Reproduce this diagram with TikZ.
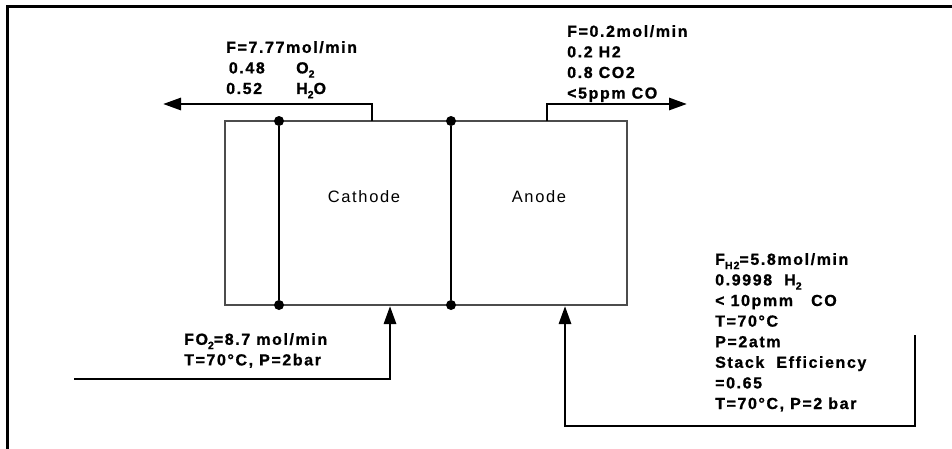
\documentclass[tikz,border=0pt]{standalone}
\usepackage{fontspec}
\setmainfont{Liberation Sans}[LetterSpace=10, BoldFeatures={FakeBold=1}]
\usetikzlibrary{arrows.meta, positioning}

\newcommand{\lowtxt}[1]{\raisebox{-0.5ex}{\fontsize{10.5}{10.5}\selectfont #1}}

\begin{document}
\begin{tikzpicture}[x=1pt, y=-1pt,
    flow/.style={line width=2.9pt, -{Triangle[length=18pt, width=12pt]}},
    membrane/.style={line width=2.3pt},
    junction/.style={circle, fill, inner sep=0pt, minimum size=10pt},
    stream/.style={anchor=north west, inner sep=0pt, align=left, font=\bfseries\fontsize{16}{20.6}\selectfont},
    region/.style={font=\fontsize{16.5}{18}\selectfont}
]
    \useasboundingbox (0,0) rectangle (952,448);
    \draw[line width=3pt] (7,6) rectangle (965,460);

    % fuel cell
    \node[draw=black!70, line width=1.4pt, minimum width=402pt, minimum height=184pt, inner sep=0pt] (cell) at (426,213) {};
    \node[junction] (ct) at (279,121) {};
    \node[junction] (cb) at (279,305) {};
    \node[junction] (at) at (451,121) {};
    \node[junction] (ab) at (451,305) {};
    \draw[membrane] (ct) -- (cb);
    \draw[membrane] (at) -- (ab);
    \node[region] (cathode) at (364,197) {Cathode};
    \node[region] (anode) at (539,197) {Anode};

    % streams
    \coordinate (cout) at (372,121);
    \coordinate (coutend) at (163,104);
    \coordinate (aout) at (547,121);
    \coordinate (aoutend) at (687,104);
    \coordinate (cinstart) at (74,379);
    \coordinate (cin) at (390,306);
    \coordinate (ainstart) at (915,335);
    \coordinate (ainlow) at (565,426);
    \coordinate (ain) at (565,306);

    \draw[flow] (cout) |- (coutend);
    \draw[flow] (aout) |- (aoutend);
    \draw[flow] (cinstart) -| (cin);
    \draw[flow] (ainstart) |- (ainlow) -- (ain);

    \node[stream] (cathodeout) at (226,41) {F=7.77mol/min\\ \makebox[70pt][l]{\,0.48}O\lowtxt{2}\\ \makebox[70pt][l]{0.52}H\lowtxt{2}O};
    \node[stream] (anodeout) at (567,25) {F=0.2mol/min\\0.2 H2\\0.8 CO2\\<5ppm CO};
    \node[stream] (cathodein) at (184,333) {FO\lowtxt{2}=8.7 mol/min\\T=70°C, P=2bar};
    \node[stream] (anodein) at (715,253) {F\lowtxt{H2}=5.8mol/min\\0.9998\ \ H\lowtxt{2}\\< 10pmm\ \ \ CO\\T=70°C\\P=2atm\\Stack\ \ Efficiency\\=0.65\\T=70°C, P=2 bar};
\end{tikzpicture}
\end{document}
